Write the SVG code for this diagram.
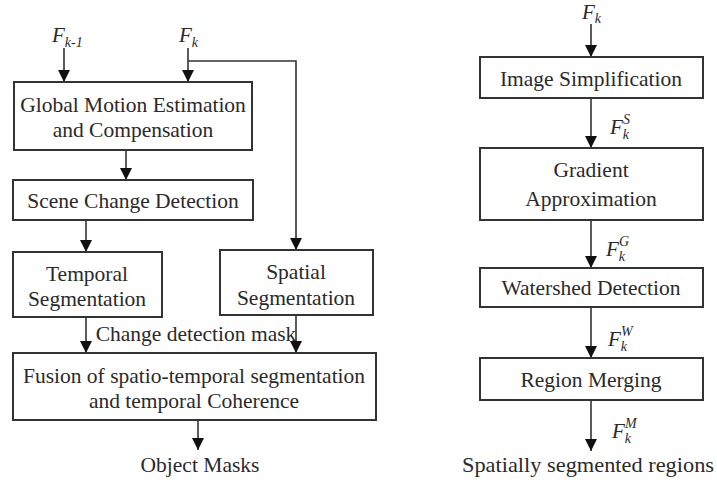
<svg xmlns="http://www.w3.org/2000/svg" width="717" height="482" viewBox="0 0 717 482">
<style>
text{font-family:'Liberation Serif','Times New Roman',serif}
.box{fill:#fff;stroke:#333;stroke-width:2}
.t{font-size:21.5px;fill:#2a2a2a;text-anchor:middle}
.f{font-style:italic;font-size:21px;fill:#2a2a2a}
.s{font-size:14px}
.c{fill:none;stroke:#333;stroke-width:1.6}
</style>
<defs>
<marker id="a" viewBox="0 0 12 12" refX="12" refY="6" markerWidth="12" markerHeight="12" markerUnits="userSpaceOnUse" orient="auto">
<path d="M0,0 L12,6 L0,12 Z" fill="#111"/>
</marker>
</defs>
<g id="connectors">
<line class="c" x1="64" y1="48" x2="64" y2="82" marker-end="url(#a)"/>
<line class="c" x1="188" y1="48" x2="188" y2="82" marker-end="url(#a)"/>
<polyline class="c" points="188,61 296,61 296,250" marker-end="url(#a)"/>
<line class="c" x1="126" y1="150" x2="126" y2="180" marker-end="url(#a)"/>
<line class="c" x1="86" y1="220" x2="86" y2="252" marker-end="url(#a)"/>
<line class="c" x1="86" y1="317" x2="86" y2="353" marker-end="url(#a)"/>
<line class="c" x1="296" y1="315" x2="296" y2="353" marker-end="url(#a)"/>
<line class="c" x1="198" y1="420" x2="198" y2="450" marker-end="url(#a)"/>
<line class="c" x1="591" y1="24" x2="591" y2="57" marker-end="url(#a)"/>
<line class="c" x1="591" y1="98" x2="591" y2="148" marker-end="url(#a)"/>
<line class="c" x1="591" y1="220" x2="591" y2="268" marker-end="url(#a)"/>
<line class="c" x1="591" y1="307" x2="591" y2="358" marker-end="url(#a)"/>
<line class="c" x1="591" y1="400" x2="591" y2="451" marker-end="url(#a)"/>
<text class="t" x="196" y="341">Change detection mask</text>
<text class="f" x="610" y="134">F<tspan class="s" dy="5">k</tspan><tspan class="s" dx="-6" dy="-15">S</tspan></text>
<text class="f" x="606" y="256">F<tspan class="s" dy="5">k</tspan><tspan class="s" dx="-6" dy="-15">G</tspan></text>
<text class="f" x="608" y="346">F<tspan class="s" dy="5">k</tspan><tspan class="s" dx="-6" dy="-15">W</tspan></text>
<text class="f" x="612" y="438">F<tspan class="s" dy="5">k</tspan><tspan class="s" dx="-6" dy="-15">M</tspan></text>
</g>
<g id="in-fk1"><text class="f" x="52" y="42">F<tspan class="s" dy="5">k-1</tspan></text></g>
<g id="in-fk"><text class="f" x="179" y="42">F<tspan class="s" dy="5">k</tspan></text></g>
<g id="global-motion">
<rect class="box" x="14" y="82" width="238" height="68"/>
<text class="t" x="133" y="112">Global Motion Estimation</text>
<text class="t" x="133" y="137">and Compensation</text>
</g>
<g id="scene-change">
<rect class="box" x="13" y="180" width="240" height="40"/>
<text class="t" x="133" y="208">Scene Change Detection</text>
</g>
<g id="temporal">
<rect class="box" x="13" y="252" width="149" height="65"/>
<text class="t" x="87" y="281">Temporal</text>
<text class="t" x="87" y="306">Segmentation</text>
</g>
<g id="spatial">
<rect class="box" x="220" y="250" width="153" height="65"/>
<text class="t" x="296" y="279">Spatial</text>
<text class="t" x="296" y="305">Segmentation</text>
</g>
<g id="fusion">
<rect class="box" x="13" y="353" width="363" height="67"/>
<text class="t" x="194" y="383">Fusion of spatio-temporal segmentation</text>
<text class="t" x="194" y="408">and temporal Coherence</text>
</g>
<g id="object-masks"><text class="t" x="200" y="472">Object Masks</text></g>
<g id="in-fk-r"><text class="f" x="582" y="19">F<tspan class="s" dy="4">k</tspan></text></g>
<g id="image-simplification">
<rect class="box" x="480" y="57" width="223" height="41"/>
<text class="t" x="591" y="86">Image Simplification</text>
</g>
<g id="gradient">
<rect class="box" x="480" y="148" width="223" height="72"/>
<text class="t" x="591" y="177">Gradient</text>
<text class="t" x="591" y="206">Approximation</text>
</g>
<g id="watershed">
<rect class="box" x="480" y="268" width="223" height="39"/>
<text class="t" x="591" y="295">Watershed Detection</text>
</g>
<g id="region-merging">
<rect class="box" x="480" y="358" width="223" height="42"/>
<text class="t" x="591" y="387">Region Merging</text>
</g>
<g id="spatial-regions"><text class="t" x="588" y="472" textLength="252" lengthAdjust="spacingAndGlyphs">Spatially segmented regions</text></g>
</svg>
